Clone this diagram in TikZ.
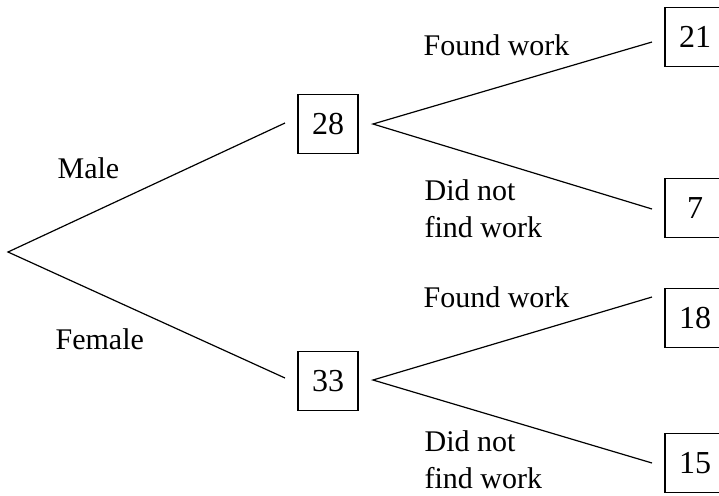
\documentclass[tikz,border=0pt]{standalone}
\usepackage{fontspec}
\setmainfont{Liberation Serif}
\tikzset{num/.style={draw,line width=0.6pt,minimum width=30pt,minimum height=29.5pt,inner sep=0pt,font=\fontsize{16}{19}\selectfont},
    lab/.style={anchor=base west,inner sep=0pt,align=left}}
\begin{document}
\begin{tikzpicture}[x=0.5pt,y=-0.5pt,line width=0.6pt,font=\fontsize{15}{18.5}\selectfont]
        \useasboundingbox (0,0) rectangle (719,495);
        \coordinate (root) at (8,252);
        \node[num] (m) at (328,124) {28};
        \node[num] (f) at (328,381) {33};
        \node[num] (mfw) at (695,37) {21};
        \node[num] (mnf) at (695,208) {7};
        \node[num] (ffw) at (695,318) {18};
        \node[num] (fnf) at (695,463) {15};
        \coordinate (min) at (285,123); \coordinate (mout) at (373,124);
        \coordinate (fin) at (285,378); \coordinate (fout) at (373,380);
        \coordinate (mfwin) at (652,42); \coordinate (mnfin) at (652,209);
        \coordinate (ffwin) at (652,297); \coordinate (fnfin) at (652,463);
        \draw (min)--(root)--(fin);
        \draw (mfwin)--(mout)--(mnfin);
        \draw (ffwin)--(fout)--(fnfin);
        \node[lab] (male) at (57,178) {Male};
        \node[lab] (female) at (55,349) {Female};
        \node[lab] (mfwt) at (423,55) {Found work};
        \node[lab] (mnft) at (424,237) {Did not\\find work};
        \node[lab] (ffwt) at (423,307) {Found work};
        \node[lab] (fnft) at (424,488) {Did not\\find work};
    \end{tikzpicture}
\end{document}
